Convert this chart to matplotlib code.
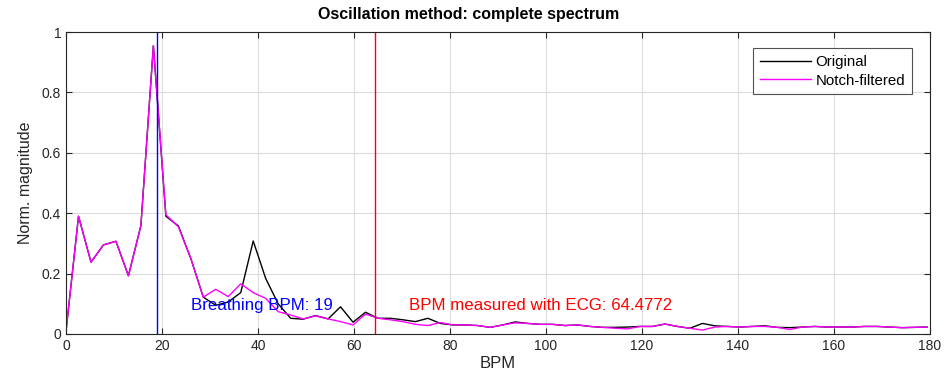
import numpy as np
import matplotlib.pyplot as plt

plt.rcParams['font.family'] = ['Liberation Sans', 'DejaVu Sans']

# Spectrum samples (normalised magnitude), one per frequency bin
bpm_step = 2.6  # BPM per bin
original = [0.01, 0.39, 0.238, 0.295, 0.307, 0.193, 0.359, 0.955, 0.39, 0.358,
            0.25, 0.122, 0.095, 0.106, 0.137, 0.308, 0.184, 0.10, 0.052, 0.049,
            0.061, 0.05, 0.09, 0.039, 0.072, 0.052, 0.052, 0.047, 0.041, 0.052,
            0.035, 0.03, 0.03, 0.028, 0.022, 0.03, 0.04, 0.035, 0.032, 0.032,
            0.028, 0.03, 0.025, 0.022, 0.022, 0.023, 0.025, 0.025, 0.033, 0.025,
            0.019, 0.035, 0.027, 0.025, 0.023, 0.025, 0.027, 0.022, 0.021, 0.023,
            0.025, 0.023, 0.023, 0.023, 0.025, 0.025, 0.023, 0.021, 0.022, 0.023]
filtered = [0.01, 0.39, 0.238, 0.295, 0.307, 0.193, 0.359, 0.955, 0.395, 0.355,
            0.25, 0.122, 0.148, 0.124, 0.166, 0.137, 0.118, 0.074, 0.063, 0.05,
            0.06, 0.05, 0.041, 0.03, 0.066, 0.052, 0.047, 0.041, 0.032, 0.028,
            0.038, 0.03, 0.03, 0.028, 0.022, 0.03, 0.037, 0.035, 0.032, 0.032,
            0.028, 0.03, 0.025, 0.022, 0.019, 0.017, 0.025, 0.025, 0.033, 0.025,
            0.019, 0.013, 0.023, 0.025, 0.023, 0.025, 0.025, 0.022, 0.015, 0.023,
            0.025, 0.023, 0.023, 0.023, 0.025, 0.025, 0.023, 0.021, 0.022, 0.023]
bpm = np.arange(len(original)) * bpm_step

breathing_bpm = 19
ecg_bpm = 64.4772

fig = plt.figure(figsize=(9.46, 3.89), dpi=100)
ax = fig.add_axes([0.0698, 0.1414, 0.9132, 0.7763])

ax.plot(bpm, original, color='black', lw=1, label='Original')
ax.plot(bpm, filtered, color='#FF00FF', lw=1, label='Notch-filtered')
ax.axvline(breathing_bpm, color='#0000FF', lw=1)
ax.axvline(ecg_bpm, color='#FF0000', lw=1)
ax.text(breathing_bpm + 7, 0.093, f'Breathing BPM: {breathing_bpm}', color='#0000FF',
        fontsize=12.2, va='center')
ax.text(ecg_bpm + 7, 0.093, f'BPM measured with ECG: {ecg_bpm}', color='#FF0000',
        fontsize=12.2, va='center')

ax.set_xlim(0, 180)
ax.set_ylim(0, 1)
ax.set_xticks(np.arange(0, 181, 20))
ax.set_yticks([0, 0.2, 0.4, 0.6, 0.8, 1])
ax.set_yticklabels(['0', '0.2', '0.4', '0.6', '0.8', '1'])
ax.grid(True, color='#dcdcdc', lw=0.8)
ax.set_axisbelow(True)
ax.tick_params(direction='in', top=True, right=True, labelsize=10,
               colors='#262626', length=4)
for s in ax.spines.values():
    s.set_color('#262626')
    s.set_linewidth(0.8)

ax.set_xlabel('BPM', fontsize=12, color='#262626', labelpad=2)
ax.set_ylabel('Norm. magnitude', fontsize=11.5, color='#262626', labelpad=6)
fig.text(469 / 946, 1 - 14 / 389, 'Oscillation method: complete spectrum',
         fontsize=11.5, fontweight='bold', ha='center', va='center')

leg = ax.legend(loc='upper right', bbox_to_anchor=(0.979, 0.947), fontsize=10.8,
                fancybox=False, edgecolor='#262626', handlelength=3.4,
                borderpad=0.45, labelspacing=0.33, handletextpad=0.3,
                borderaxespad=0)
leg.get_frame().set_linewidth(0.8)

fig.savefig('out.png', dpi=100)
